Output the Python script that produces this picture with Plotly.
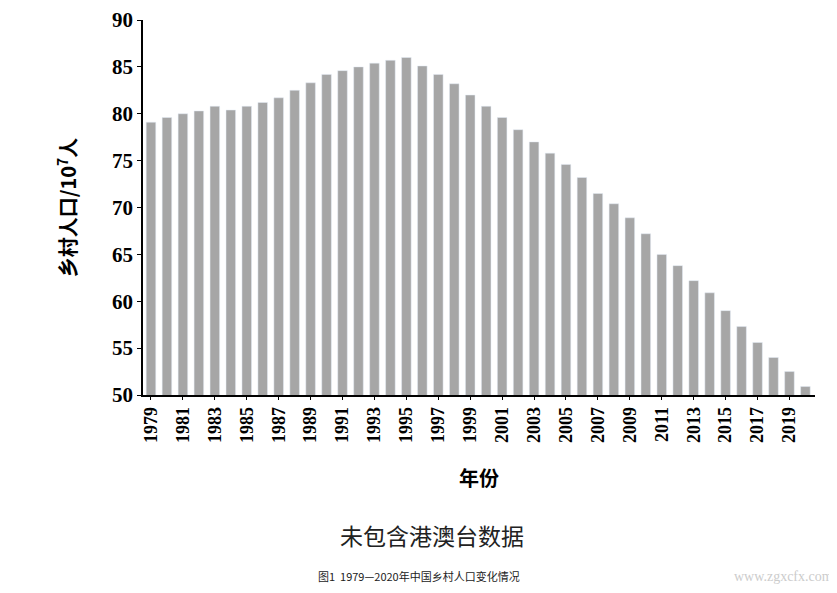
import plotly.graph_objects as go

# Jahre und Werte
years = list(range(1979, 2021))
rural = [79.1, 79.6, 80.0, 80.3, 80.8, 80.4, 80.8, 81.2, 81.7, 82.5,
         83.3, 84.2, 84.6, 85.0, 85.4, 85.7, 86.0, 85.1, 84.2, 83.2,
         82.0, 80.8, 79.6, 78.3, 77.0, 75.8, 74.6, 73.2, 71.5, 70.4,
         68.9, 67.2, 65.0, 63.8, 62.2, 60.9, 59.0, 57.3, 55.6, 54.0,
         52.5, 50.9]

serif = "Liberation Serif, Times New Roman, serif"

fig = go.Figure(go.Bar(x=years, y=rural, marker_color="#a6a6a6", width=0.6))

fig.update_xaxes(range=[1978.5, 2020.6], tickmode="linear", tick0=1979, dtick=2,
                 tickangle=-90, showline=True, linecolor="black", linewidth=1.5,
                 ticks="outside", ticklen=3, tickcolor="black", automargin=False,
                 tickfont=dict(family=serif, size=18, color="black", weight="bold"),
                 title=dict(text="<b>年份</b>", font=dict(size=20, color="black",
                            family="Noto Sans CJK SC"), standoff=30))
fig.update_yaxes(range=[50, 90], dtick=5, showline=True, linecolor="black", linewidth=1.5,
                 ticks="outside", ticklen=4, tickcolor="black", showgrid=False, automargin=False,
                 tickfont=dict(family=serif, size=21, color="black", weight="bold"),
                 title=dict(text="<b>乡村人口/10<sup>7</sup>人</b>",
                            font=dict(size=20, color="black", family="Noto Sans CJK SC"),
                            standoff=30))

fig.add_annotation(text="未包含港澳台数据", xref="paper", yref="paper", x=0.43, y=-0.425,
                   showarrow=False, font=dict(size=23, color="#222", family="Noto Sans CJK SC"))
fig.add_annotation(text="图1  1979—2020年中国乡村人口变化情况", xref="paper", yref="paper",
                   x=0.41, y=-0.51, showarrow=False,
                   font=dict(size=11, color="#222", family="Noto Sans CJK SC"))
fig.add_annotation(text="www.zgxcfx.com", xref="paper", yref="paper", x=1.03, y=-0.51,
                   xanchor="right", showarrow=False,
                   font=dict(size=14, color="#cccccc", family=serif))

fig.update_layout(width=837, height=593, plot_bgcolor="white", paper_bgcolor="white",
                  margin=dict(l=135, r=30, t=12, b=206), bargap=0.3, showlegend=False)

fig.write_html("out.html")
